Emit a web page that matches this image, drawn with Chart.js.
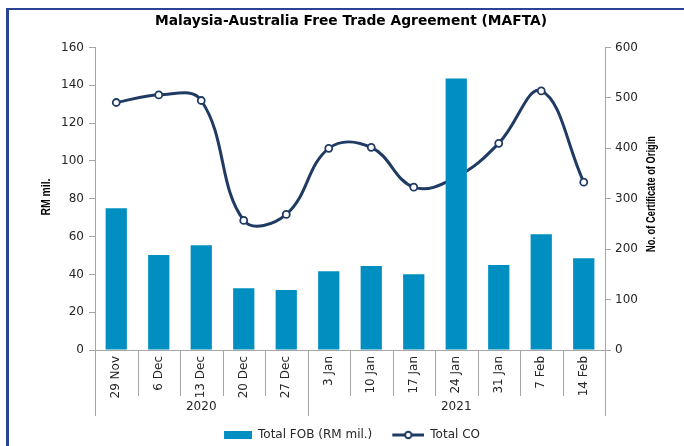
<!DOCTYPE html>
<html>
<head>
<meta charset="utf-8">
<script src="https://cdn.jsdelivr.net/npm/chart.js@4.4.1/dist/chart.umd.min.js"></script>
<style>
  html, body { margin: 0; padding: 0; background: #fff; }
  #wrap { position: relative; width: 684px; height: 446px; overflow: hidden; }
  #frame { position: absolute; left: 6px; top: 8px; width: 800px; height: 600px;
           border-top: 2px solid #2a4494; border-left: 3px solid #2a4494; pointer-events: none; }
</style>
</head>
<body>
<div id="wrap">
  <canvas id="chart" width="684" height="446"></canvas>
  <div id="frame"></div>
</div>
<script>
const categories = ["29 Nov", "6 Dec", "13 Dec", "20 Dec", "27 Dec", "3 Jan", "10 Jan", "17 Jan", "24 Jan", "31 Jan", "7 Feb", "14 Feb"];
const years = ["2020", "2021"];
const yearCounts = [5, 7];
const totalFob = [75, 50.2, 55.4, 32.7, 31.8, 41.7, 44.4, 40.1, 143.6, 45, 61.2, 48.6];
const totalCo = [491, 506, 495, 257, 269, 400, 402, 323, 343, 410, 514, 333];

const barColor = "#008fc0";
const lineColor = "#1f3a63";
const axisColor = "#a6a6a6";
const font = "DejaVu Sans";

// legend swatches, blank on the left so the items sit further apart
function swatch(draw) {
  const c = document.createElement("canvas");
  c.width = 48; c.height = 10;
  draw(c.getContext("2d"));
  return c;
}
const barSwatch = swatch(g => { g.fillStyle = barColor; g.fillRect(20, 1, 28, 8); });
const lineSwatch = swatch(g => {
  g.strokeStyle = lineColor; g.lineWidth = 3;
  g.beginPath(); g.moveTo(16, 5); g.lineTo(48, 5); g.stroke();
  g.fillStyle = "#fff"; g.lineWidth = 2;
  g.beginPath(); g.arc(32, 5, 3.2, 0, Math.PI * 2); g.fill(); g.stroke();
});

// vertical title squeezed to a given length, reading bottom to top
function sideTitle(ctx, text, cx, cy, len) {
  ctx.save();
  ctx.translate(cx, cy);
  ctx.rotate(-Math.PI / 2);
  const w = ctx.measureText(text).width;
  ctx.scale(len / w, 1);
  ctx.fillText(text, 0, 0);
  ctx.restore();
}

// category dividers, year row and the two axis titles
const extras = {
  id: "extras",
  afterLayout(chart) {
    chart.legend.top += 5; chart.legend.bottom += 5;
    chart.titleBlock.left += 9; chart.titleBlock.right += 9;
  },
  afterDraw(chart) {
    const { ctx, chartArea, scales: { x } } = chart;
    const bottom = chartArea.bottom;
    const n = categories.length;
    const edges = [0];
    yearCounts.reduce((s, c) => { edges.push(s + c); return s + c; }, 0);

    ctx.save();
    ctx.strokeStyle = axisColor;
    ctx.lineWidth = 1;
    const edgeX = i => {
      if (i === 0) return chartArea.left;
      if (i === n) return chartArea.right;
      return (x.getPixelForValue(i - 1) + x.getPixelForValue(i)) / 2;
    };
    for (let i = 0; i <= n; i++) {
      const px = Math.round(edgeX(i)) + 0.5;
      const len = edges.includes(i) ? 66 : 46;
      ctx.beginPath(); ctx.moveTo(px, bottom); ctx.lineTo(px, bottom + len); ctx.stroke();
    }

    ctx.fillStyle = "#262626";
    ctx.font = "12px '" + font + "'";
    ctx.textAlign = "center";
    ctx.textBaseline = "middle";
    years.forEach((yr, k) => {
      const cx = (edgeX(edges[k]) + edgeX(edges[k + 1])) / 2;
      ctx.fillText(yr, cx, bottom + 57);
    });

    ctx.fillStyle = "#000";
    ctx.font = "bold 12px 'Liberation Sans Narrow', 'Liberation Sans'";
    sideTitle(ctx, "RM mil.", 47, 197, 37);
    sideTitle(ctx, "No. of Certificate of Origin", 652, 194, 116);
    ctx.restore();
  }
};

new Chart(document.getElementById("chart"), {
  data: {
    labels: categories,
    datasets: [
      {
        type: "bar",
        label: "Total FOB (RM mil.)",
        data: totalFob,
        backgroundColor: barColor,
        barPercentage: 1,
        categoryPercentage: 0.5,
        yAxisID: "y"
      },
      {
        type: "line",
        label: "Total CO",
        data: totalCo,
        borderColor: lineColor,
        borderWidth: 3,
        tension: 0.4,
        pointRadius: 3.5,
        pointBorderWidth: 1.8,
        pointBackgroundColor: "#fff",
        pointBorderColor: lineColor,
        yAxisID: "y1"
      }
    ]
  },
  options: {
    responsive: false,
    animation: false,
    devicePixelRatio: 1,
    layout: { padding: 0 },
    scales: {
      x: {
        offset: true,
        grid: { display: false, drawTicks: false },
        border: { color: axisColor },
        ticks: { minRotation: 90, maxRotation: 90, padding: 6, color: "#262626", font: { family: font, size: 12 } },
        afterFit(s) { s.height = 70; }
      },
      y: {
        position: "left",
        min: 0, max: 160,
        ticks: { stepSize: 20, padding: 5, color: "#262626", font: { family: font, size: 12 } },
        grid: { drawOnChartArea: false, tickLength: 6, color: axisColor },
        border: { color: axisColor },
        afterFit(s) { s.width = 95; }
      },
      y1: {
        position: "right",
        min: 0, max: 600,
        ticks: { stepSize: 100, padding: 4, color: "#262626", font: { family: font, size: 12 } },
        grid: { drawOnChartArea: false, tickLength: 6, color: axisColor },
        border: { color: axisColor },
        afterFit(s) { s.width = 79; }
      }
    },
    plugins: {
      title: {
        display: true,
        text: "Malaysia-Australia Free Trade Agreement (MAFTA)",
        color: "#000",
        font: { family: font, size: 13.8, weight: "bold" },
        padding: { top: 13, bottom: 18 }
      },
      legend: {
        position: "bottom",
        labels: {
          usePointStyle: true,
          pointStyleWidth: 48,
          padding: 4,
          color: "#262626",
          font: { family: font, size: 12 },
          generateLabels(chart) {
            const items = Chart.defaults.plugins.legend.labels.generateLabels(chart);
            items.forEach(it => { it.pointStyle = it.datasetIndex === 0 ? barSwatch : lineSwatch; });
            return items;
          }
        }
      },
      tooltip: { enabled: false }
    }
  },
  plugins: [extras]
});
</script>
</body>
</html>
